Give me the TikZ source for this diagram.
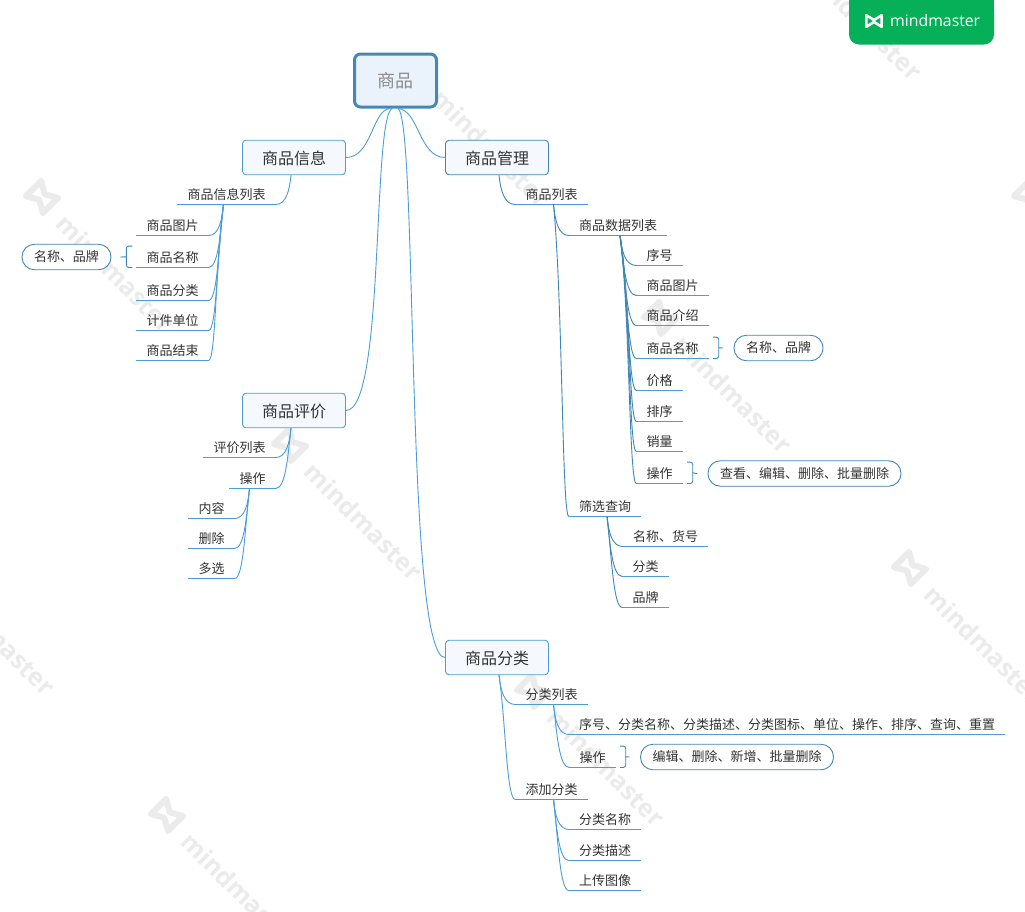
\documentclass[tikz,border=0pt]{standalone}
\usepackage{fontspec}
\setmainfont{Noto Sans CJK SC}
\newfontfamily\wmfont{Open Sans}
\usetikzlibrary{calc}
\definecolor{lineA}{HTML}{4C9DD6}
\definecolor{lineB}{HTML}{3F86B8}
\definecolor{rootEdge}{HTML}{4488B5}
\definecolor{rootFill}{HTML}{EAF2FB}
\definecolor{boxFill}{HTML}{F5F9FE}
\definecolor{txt}{HTML}{333333}
\definecolor{wm}{HTML}{EBEBEB}
\definecolor{tab}{HTML}{06B058}
\tikzset{
  x=1pt,y=-1pt,
  every node/.style={text=txt},
  rootbox/.style={draw=rootEdge,line width=3pt,fill=rootFill,rounded corners=6pt,minimum width=82pt,minimum height=53pt,inner sep=0pt,font=\fontsize{18}{18}\selectfont,text=gray!90},
  mainbox/.style={draw=lineA,line width=0.9pt,fill=boxFill,rounded corners=3.5pt,minimum width=103pt,minimum height=34.5pt,inner sep=0pt,text height=14pt,text depth=0pt,font=\fontsize{16}{16}\selectfont},
  leaf/.style={anchor=south,inner xsep=10pt,inner ysep=3pt,text height=13pt,text depth=2pt,font=\fontsize{13}{13}\selectfont},
  pill/.style={draw=lineB,line width=0.9pt,fill=white,rounded corners=12.5pt,minimum height=25.5pt,inner xsep=12pt,inner ysep=0pt,font=\fontsize{13}{13}\selectfont},
  conn/.style={draw=lineA,line width=0.9pt},
  connB/.style={draw=lineB,line width=0.9pt},
  under/.style={draw=lineA,line width=0.9pt},
  wmtext/.style={text=wm,rotate=-45,anchor=west,inner sep=0pt,font=\wmfont\bfseries\fontsize{25}{25}\selectfont},
}
\newcommand\wmark[2]{%
  \begin{scope}[shift={(#1,#2)},rotate=-45]
    \begin{scope}[x=24pt,y=24pt]
      \draw[wm,line width=6pt,line join=round] (-0.5,-0.45)--(-0.5,0.45)--(0,0.16)--(0.5,0.45)--(0.5,-0.45)--(0,-0.16)--cycle;
    \end{scope}
  \end{scope}
  \node[wmtext] at (#1+19,#2+22) {mindmaster};}
\newcommand\conR[3][conn]{\edef\kidname{#3}\draw[#1] let \p1=($(#2.south)+(2,0)$), \p2=(\kidname.south west),
    \n1={max(0.1,min(0.6,0.1+0.5*(abs(\y2-\y1)-30)/150))} in
  (\p1) .. controls ({\x1+\n1*(\x2-\x1)},{\y1+(0.54-0.4*\n1)*(\y2-\y1)}) and ({\x1+(0.25+0.5*\n1)*(\x2-\x1)},\y2) .. (\p2);}
\newcommand\conL[3][conn]{\edef\kidname{#3}\draw[#1] let \p1=($(#2.south)+(-3,0)$), \p2=(\kidname.south east),
    \n1={max(0.1,min(0.6,0.1+0.5*(abs(\y2-\y1)-30)/150))} in
  (\p1) .. controls ({\x1+\n1*(\x2-\x1)},{\y1+(0.54-0.4*\n1)*(\y2-\y1)}) and ({\x1+(0.25+0.5*\n1)*(\x2-\x1)},\y2) .. (\p2);}
\newcommand\lfR[4]{\node[leaf] (#1) at (#2,#3) {#4};\draw[under] (#1.south west)--(#1.south east);}
\newcommand\braceR[2]{\draw[connB,rounded corners=2.5pt]
  ($(#1.north east)+(4.5,0)$) -- ($(#1.north east)+(10,0)$) -- ($(#1.south east)+(10,0)$) -- ($(#1.south east)+(4.5,0)$);
  \draw[connB] ($(#1.east)+(10,0)$) -- ($(#2.west)+(-10.5,0)$);}
\newcommand\braceL[2]{\draw[connB,rounded corners=2.5pt]
  ($(#1.north west)+(-4,0)$) -- ($(#1.north west)+(-10,0)$) -- ($(#1.south west)+(-10,0)$) -- ($(#1.south west)+(-4,0)$);
  \draw[connB] ($(#1.west)+(-10,0)$) -- ($(#2.east)+(9,0)$);}
\begin{document}
\begin{tikzpicture}
\useasboundingbox (0,0) rectangle (1025,911);
\clip (0,0) rectangle (1025,911);
\fill[white] (0,0) rectangle (1025,911);
% watermarks
\wmark{-77}{560}
\wmark{42}{197}
\wmark{418}{72}
\wmark{660}{318}
\wmark{290}{445}
\wmark{910}{568}
\wmark{167}{815}
\wmark{533}{691}
\wmark{790}{-55}
\wmark{1030}{197}
% tab
\fill[tab] (849,-12) rectangle (994,34);
\fill[tab,rounded corners=10pt] (849,0) rectangle (994,44.5);
\begin{scope}[shift={(874,21)},x=16pt,y=16pt]
  \draw[white,line width=2.6pt,line join=round] (-0.48,-0.36)--(-0.48,0.36)--(0,0.06)--(0.48,0.36)--(0.48,-0.36)--(0,-0.06)--cycle;
\end{scope}
\node[anchor=west,inner sep=0pt,text=white,font=\wmfont\fontsize{15.8}{16}\selectfont] (brand) at (890,20.5) {mindmaster};
% main nodes
\node[rootbox] (root) at (395.5,80.5) {商品};
\node[mainbox] (info) at (294,157.5) {商品信息};
\node[mainbox,draw=lineB] (mgmt) at (497,157.5) {商品管理};
\node[mainbox] (eval) at (294,410.5) {商品评价};
\node[mainbox] (cat)  at (497,657.5) {商品分类};
% root connectors
\draw[conn] (root.south)+(-5.5,0) .. controls (372,110) and (372,157.5) .. (info.east);
\draw[conn] (root.south)+(-3.5,0) .. controls (372,120) and (385,410.5) .. (eval.east);
\draw[conn] (root.south)+(2.5,0) .. controls (419,110) and (419,157.5) .. (mgmt.west);
\draw[conn] (root.south)+(2.5,0) .. controls (418,120) and (405,657.5) .. (cat.west);
% left: product info
\lfR{infolist}{226.5}{204.5}{商品信息列表}
\lfR{infopic}{172.5}{235.5}{商品图片}
\lfR{infoname}{172.5}{267.5}{商品名称}
\lfR{infocat}{172.5}{300.5}{商品分类}
\lfR{infounit}{172.5}{330.5}{计件单位}
\lfR{infoend}{172.5}{360.5}{商品结束}
\node[pill] (infopill) at (66.5,257) {名称、品牌};
\conL{info}{infolist}
\foreach \kid in {infopic,infoname,infocat,infounit,infoend}{\conL{infolist}{\kid}}
\braceL{infoname}{infopill}
% left: evaluation
\lfR{evallist}{239.5}{457.5}{评价列表}
\lfR{evalop}{252.5}{488.5}{操作}
\lfR{evalc}{211.5}{518.5}{内容}
\lfR{evald}{211.5}{548.5}{删除}
\lfR{evalm}{211.5}{578.5}{多选}
\conL{eval}{evallist}
\conL{eval}{evalop}
\foreach \kid in {evalc,evald,evalm}{\conL{evalop}{\kid}}
% right: management
\lfR{list}{551.5}{204.5}{商品列表}
\lfR{data}{618}{235.5}{商品数据列表}
\lfR{seq}{659.5}{265.5}{序号}
\lfR{pic}{672.5}{295.5}{商品图片}
\lfR{intro}{672.5}{325.5}{商品介绍}
\lfR{name}{672.5}{358.5}{商品名称}
\lfR{price}{659.5}{390.5}{价格}
\lfR{sort}{659.5}{421.5}{排序}
\lfR{sales}{659.5}{451.5}{销量}
\lfR{oper}{659.5}{483.5}{操作}
\node[pill] (namepill) at (778.5,348) {名称、品牌};
\node[pill] (operpill) at (804.5,473.5) {查看、编辑、删除、批量删除};
\lfR{filter}{605}{516.5}{筛选查询}
\lfR{fname}{665.5}{546.5}{名称、货号}
\lfR{fcat}{645.5}{576.5}{分类}
\lfR{fbrand}{645.5}{607.5}{品牌}
\conR[connB]{mgmt}{list}
\conR[connB]{list}{data}
\conR[connB]{list}{filter}
\foreach \kid in {seq,pic,intro,name,price,sort,sales,oper}{\conR[connB]{data}{\kid}}
\foreach \kid in {fname,fcat,fbrand}{\conR[connB]{filter}{\kid}}
\braceR{name}{namepill}
\braceR{oper}{operpill}
% right: category
\lfR{clist}{551.5}{704.5}{分类列表}
\lfR{cfields}{787}{734.5}{序号、分类名称、分类描述、分类图标、单位、操作、排序、查询、重置}
\lfR{cop}{592.5}{767.5}{操作}
\node[pill] (coppill) at (737,757) {编辑、删除、新增、批量删除};
\lfR{cadd}{551.5}{799.5}{添加分类}
\lfR{cname}{605}{829.5}{分类名称}
\lfR{cdesc}{605}{860.5}{分类描述}
\lfR{cimg}{605}{890.5}{上传图像}
\conR{cat}{clist}
\conR{cat}{cadd}
\conR{clist}{cfields}
\conR{clist}{cop}
\foreach \kid in {cname,cdesc,cimg}{\conR{cadd}{\kid}}
\braceR{cop}{coppill}
\end{tikzpicture}
\end{document}
